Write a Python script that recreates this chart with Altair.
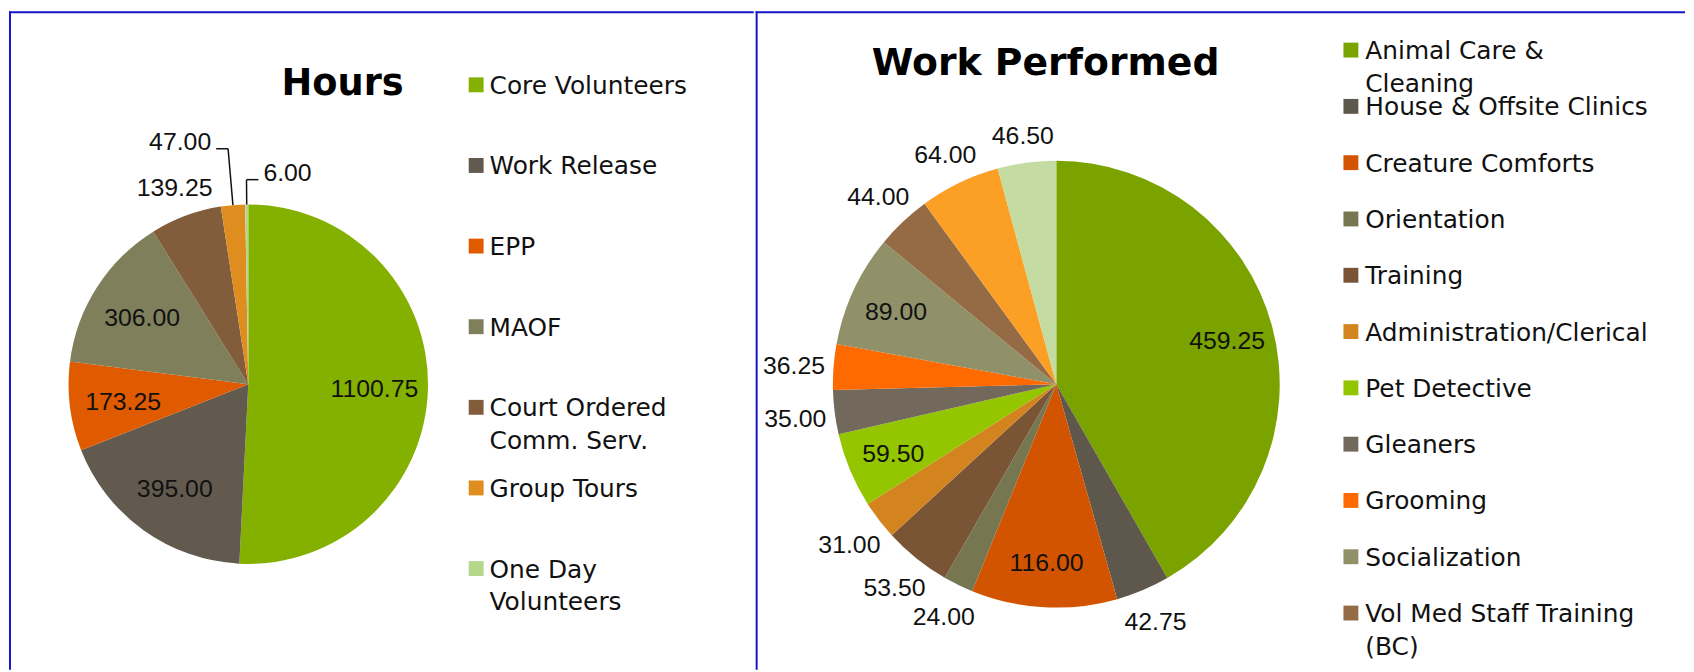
import json
import altair as alt
import pandas as pd

# ---------------- data ----------------
hours_categories = [
    "Core Volunteers",
    "Work Release",
    "EPP",
    "MAOF",
    "Court Ordered\nComm. Serv.",
    "Group Tours",
    "One Day\nVolunteers",
]
hours_values = [1100.75, 395.00, 173.25, 306.00, 139.25, 47.00, 6.00]

work_categories = [
    "Animal Care &\nCleaning",
    "House & Offsite Clinics",
    "Creature Comforts",
    "Orientation",
    "Training",
    "Administration/Clerical",
    "Pet Detective",
    "Gleaners",
    "Grooming",
    "Socialization",
    "Vol Med Staff Training\n(BC)",
    "Other 1",
    "Other 2",
]
work_values = [459.25, 42.75, 116.00, 24.00, 53.50, 31.00, 59.50, 35.00, 36.25, 89.00, 44.00, 64.00, 46.50]

titles = ["Hours", "Work Performed"]

# ---------------- styles ----------------
hours_colors = ["#84B000", "#635A4F", "#E05A00", "#7F7F5B", "#825D3C", "#E08D20", "#B4D78A"]
work_colors = ["#7AA300", "#5E574C", "#D35400", "#767650", "#7A5535", "#D4841F",
               "#94C600", "#72685B", "#FF6A00", "#909168", "#956B45", "#FBA025", "#C4DCA2"]
BORDER = "#1616C8"
TEXT = "#111111"
LABEL_FONT = "Liberation Sans"
LEGEND_FONT = "DejaVu Sans"


def panel(cats, vals, colors, title, *, width, height, cx, cy, R, title_x, title_y, title_size,
          inside, r_in, leaders, sq_x, txt_x, leg_y0, leg_step, leg_count):
    df = pd.DataFrame({"cat": cats, "value": vals, "idx": list(range(len(cats)))})
    color = alt.Color("cat:N", scale=alt.Scale(domain=cats, range=colors), legend=None)
    base = alt.Chart(df)

    pie = base.mark_arc(outerRadius=R).encode(
        theta=alt.Theta("value:Q", stack=True),
        color=color,
        order=alt.Order("idx:Q"),
        x=alt.value(cx),
        y=alt.value(cy),
    )

    geo = (
        base.transform_joinaggregate(total="sum(value)")
        .transform_window(cum="sum(value)", sort=[alt.SortField("idx")], frame=[None, 0])
        .transform_calculate(mid="(datum.cum - datum.value/2)/datum.total*2*PI")
        .transform_calculate(sa="sin(datum.mid)")
        .transform_calculate(ca="cos(datum.mid)")
    )

    leader_names = json.dumps(list(leaders))
    inside_js = json.dumps(inside)
    labels = (
        geo.transform_filter(f"indexof({leader_names}, datum.cat) < 0")
        .transform_calculate(
            r=f"indexof({inside_js}, datum.cat) >= 0 ? {r_in} : {R} + 28 + 12*abs(datum.sa)"
        )
        .transform_calculate(lx=f"{cx} + datum.r*datum.sa")
        .transform_calculate(ly=f"{cy} - datum.r*datum.ca")
        .mark_text(font=LABEL_FONT, fontSize=25, color=TEXT, baseline="middle", dy=2)
        .encode(
            x=alt.X("lx:Q", scale=None),
            y=alt.Y("ly:Q", scale=None),
            text=alt.Text("value:Q", format=".2f"),
        )
    )

    layers = [pie, labels]

    for name, (ext, direction) in leaders.items():
        lg = (
            geo.transform_filter(f"datum.cat == {json.dumps(name)}")
            .transform_calculate(ex=f"{cx} + {R}*datum.sa")
            .transform_calculate(ey=f"{cy} - {R}*datum.ca")
            .transform_calculate(bx=f"{cx} + {R + ext}*datum.sa")
            .transform_calculate(by=f"{cy} - {R + ext}*datum.ca")
            .transform_calculate(hx=f"datum.bx + {direction}*12")
            .transform_calculate(tx=f"datum.hx + {direction}*5")
        )
        seg1 = lg.mark_rule(color=TEXT, strokeWidth=1.5).encode(
            x=alt.X("ex:Q", scale=None), y=alt.Y("ey:Q", scale=None),
            x2="bx:Q", y2="by:Q",
        )
        seg2 = lg.mark_rule(color=TEXT, strokeWidth=1.5).encode(
            x=alt.X("bx:Q", scale=None), y=alt.Y("by:Q", scale=None),
            x2="hx:Q", y2="by:Q",
        )
        txt = lg.mark_text(
            font=LABEL_FONT, fontSize=25, color=TEXT, baseline="alphabetic",
            align="right" if direction < 0 else "left", dy=1,
        ).encode(
            x=alt.X("tx:Q", scale=None), y=alt.Y("by:Q", scale=None),
            text=alt.Text("value:Q", format=".2f"),
        )
        layers += [seg1, seg2, txt]

    leg = base.transform_filter(f"datum.idx < {leg_count}").transform_calculate(
        ly=f"{leg_y0} + datum.idx*{leg_step}"
    )
    squares = leg.mark_square(size=225, opacity=1).encode(
        x=alt.value(sq_x), y=alt.Y("ly:Q", scale=None), color=color
    )
    leg_text = leg.mark_text(
        align="left", baseline="alphabetic", dy=9, lineBreak="\n", lineHeight=33,
        fontSize=25, font=LEGEND_FONT, color=TEXT,
    ).encode(x=alt.value(txt_x), y=alt.Y("ly:Q", scale=None), text="cat:N")
    layers += [squares, leg_text]

    ttl = alt.Chart(pd.DataFrame({"t": [title]})).mark_text(
        font=LEGEND_FONT, fontWeight="bold", fontSize=title_size, baseline="alphabetic",
        align="center", color="#000000",
    ).encode(text="t:N", x=alt.value(title_x), y=alt.value(title_y))
    layers.append(ttl)

    frame = alt.Chart(pd.DataFrame({"b": [0]}))
    top = frame.mark_rule(color=BORDER, strokeWidth=2).encode(
        x=alt.value(0), x2=alt.value(width), y=alt.value(2)
    )
    side = frame.mark_rule(color=BORDER, strokeWidth=2).encode(
        x=alt.value(1), y=alt.value(1), y2=alt.value(height)
    )
    layers += [top, side]

    return alt.layer(*layers).properties(width=width, height=height)


left = panel(
    hours_categories, hours_values, hours_colors, titles[0],
    width=750, height=664, cx=241, cy=376.5, R=181,
    title_x=336, title_y=85, title_size=37,
    inside=["Core Volunteers", "Work Release", "EPP", "MAOF"], r_in=127,
    leaders={"Group Tours": (57, -1), "One Day\nVolunteers": (25, 1)},
    sq_x=470.5, txt_x=484, leg_y0=75, leg_step=81.2, leg_count=7,
)

right = panel(
    work_categories, work_values, work_colors, titles[1],
    width=936, height=664, cx=302.8, cy=376.5, R=225,
    title_x=292, title_y=65, title_size=38,
    inside=["Animal Care &\nCleaning", "Creature Comforts", "Pet Detective", "Socialization"],
    r_in=178, leaders={},
    sq_x=599.5, txt_x=614, leg_y0=40, leg_step=56.7, leg_count=11,
)

chart = (
    alt.hconcat(left, right, spacing=0)
    .resolve_scale(color="independent", theta="independent")
    .properties(padding=0, background="white")
    .configure_view(stroke=None)
)

chart.save("out.html", embed_options={"renderer": "svg", "actions": False})
